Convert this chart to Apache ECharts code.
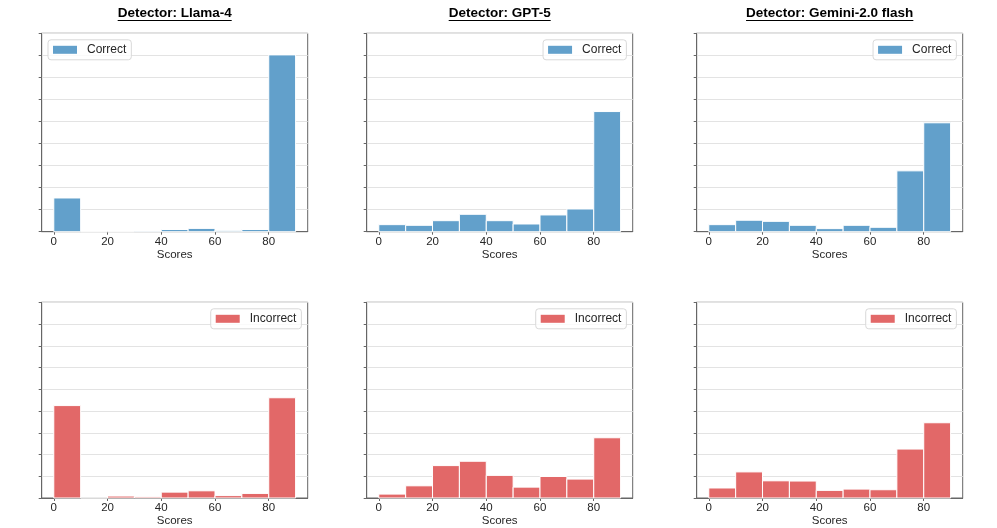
<!DOCTYPE html>
<html>
<head>
<meta charset="utf-8">
<script src="https://cdn.jsdelivr.net/npm/echarts@6/dist/echarts.min.js"></script>
<style>
html,body{margin:0;padding:0;background:#fff;}
#main{width:997px;height:528px;}
</style>
</head>
<body>
<div id="main"></div>
<script>
// ---- data ----
const detectors = ['Detector: Llama-4', 'Detector: GPT-5', 'Detector: Gemini-2.0 flash'];
const binStarts = [0, 10, 20, 30, 40, 50, 60, 70, 80];
const binWidth = 10;
const xTickLabels = [0, 20, 40, 60, 80];
const llamaCorrect   = [1.53, 0, 0, 0.03, 0.10, 0.15, 0.06, 0.10, 8.02];
const gptCorrect     = [0.32, 0.29, 0.50, 0.79, 0.50, 0.35, 0.76, 1.03, 5.45];
const geminiCorrect  = [0.32, 0.52, 0.47, 0.29, 0.14, 0.29, 0.20, 2.76, 4.94];
const llamaIncorrect = [4.25, 0, 0.09, 0.05, 0.27, 0.33, 0.11, 0.21, 4.61];
const gptIncorrect   = [0.18, 0.56, 1.49, 1.69, 1.04, 0.50, 0.99, 0.87, 2.77];
const geminiIncorrect= [0.46, 1.20, 0.79, 0.78, 0.35, 0.41, 0.38, 2.25, 3.46];

const FONT = '"Liberation Sans", Arial, sans-serif';
const BLUE = '#62a0cb';
const RED = '#e26868';

const colLeft = [41.7, 366.7, 696.7];
const colWidth = 266;
const rowTop = [33.3, 302.3];
const rowHeight = [198.4, 197];

const panels = [
  {row:0,col:0,name:'Correct',color:BLUE,data:llamaCorrect,legendLeft:true},
  {row:0,col:1,name:'Correct',color:BLUE,data:gptCorrect},
  {row:0,col:2,name:'Correct',color:BLUE,data:geminiCorrect},
  {row:1,col:0,name:'Incorrect',color:RED,data:llamaIncorrect},
  {row:1,col:1,name:'Incorrect',color:RED,data:gptIncorrect},
  {row:1,col:2,name:'Incorrect',color:RED,data:geminiIncorrect}
];

const grids=[],xAxes=[],yAxes=[],series=[],legends=[],graphics=[];
panels.forEach((p,i)=>{
  grids.push({left:colLeft[p.col],top:rowTop[p.row],width:colWidth,height:rowHeight[p.row],
    show:true,borderColor:'#666',borderWidth:1,backgroundColor:'#fff'});
  xAxes.push({type:'value',gridIndex:i,min:-4.5,max:94.5,
    name:'Scores',nameLocation:'middle',nameGap:17,
    nameTextStyle:{fontFamily:FONT,fontSize:11.5,color:'#262626'},
    axisLine:{show:true,onZero:false,lineStyle:{color:'#666'}},
    axisTick:{show:true,customValues:xTickLabels,length:3,lineStyle:{color:'#666'}},
    axisLabel:{customValues:xTickLabels,margin:4,fontFamily:FONT,fontSize:11.5,color:'#262626'},
    splitLine:{show:false}});
  yAxes.push({type:'value',gridIndex:i,min:0,max:9,interval:1,
    axisLine:{show:true,onZero:false,lineStyle:{color:'#666'}},
    axisTick:{show:true,length:3,lineStyle:{color:'#666'}},
    axisLabel:{show:false},
    splitLine:{show:true,lineStyle:{color:'#e3e3e3',width:1}}});
  series.push({type:'custom',name:p.name,xAxisIndex:i,yAxisIndex:i,
    itemStyle:{color:p.color},
    data:binStarts.map((b,k)=>[b,b+binWidth,p.data[k]]),
    encode:{x:[0,1],y:2},
    renderItem:function(params,api){
      const a=api.coord([api.value(0),0]);
      const b=api.coord([api.value(1),api.value(2)]);
      return {type:'rect',shape:{x:a[0],y:b[1],width:b[0]-a[0],height:a[1]-b[1]},
        style:{fill:p.color,stroke:'#fff',lineWidth:1}};
    }});
  const lg={data:[p.name],top:rowTop[p.row]+6.5,icon:'rect',itemWidth:24,itemHeight:8,
    padding:[4,5,4,5],borderColor:'#d9d9d9',borderWidth:1,borderRadius:3,
    backgroundColor:'rgba(255,255,255,0.8)',selectedMode:false,
    textStyle:{fontFamily:FONT,fontSize:12,color:'#262626',padding:[0,0,0,5]}};
  if(p.legendLeft){lg.left=colLeft[p.col]+6.3;}
  else{lg.right=997-(colLeft[p.col]+colWidth-6.3);}
  legends.push(lg);
});

// titles with underline
const TFONT='bold 13.5px '+FONT;
const ctx=document.createElement('canvas').getContext('2d');
ctx.font=TFONT;
detectors.forEach((t,c)=>{
  const cx=colLeft[c]+colWidth/2;
  const w=ctx.measureText(t).width;
  graphics.push({type:'text',x:cx,y:13,
    style:{text:t,fill:'#000',font:TFONT,textAlign:'center',textVerticalAlign:'middle'}});
  graphics.push({type:'line',shape:{x1:cx-w/2,y1:20.5,x2:cx+w/2,y2:20.5},style:{stroke:'#000',lineWidth:1}});
});

const chart=echarts.init(document.getElementById('main'),null,{renderer:'canvas'});
chart.setOption({animation:false,backgroundColor:'#fff',
  grid:grids,xAxis:xAxes,yAxis:yAxes,series:series,legend:legends,graphic:graphics});
</script>
</body>
</html>
